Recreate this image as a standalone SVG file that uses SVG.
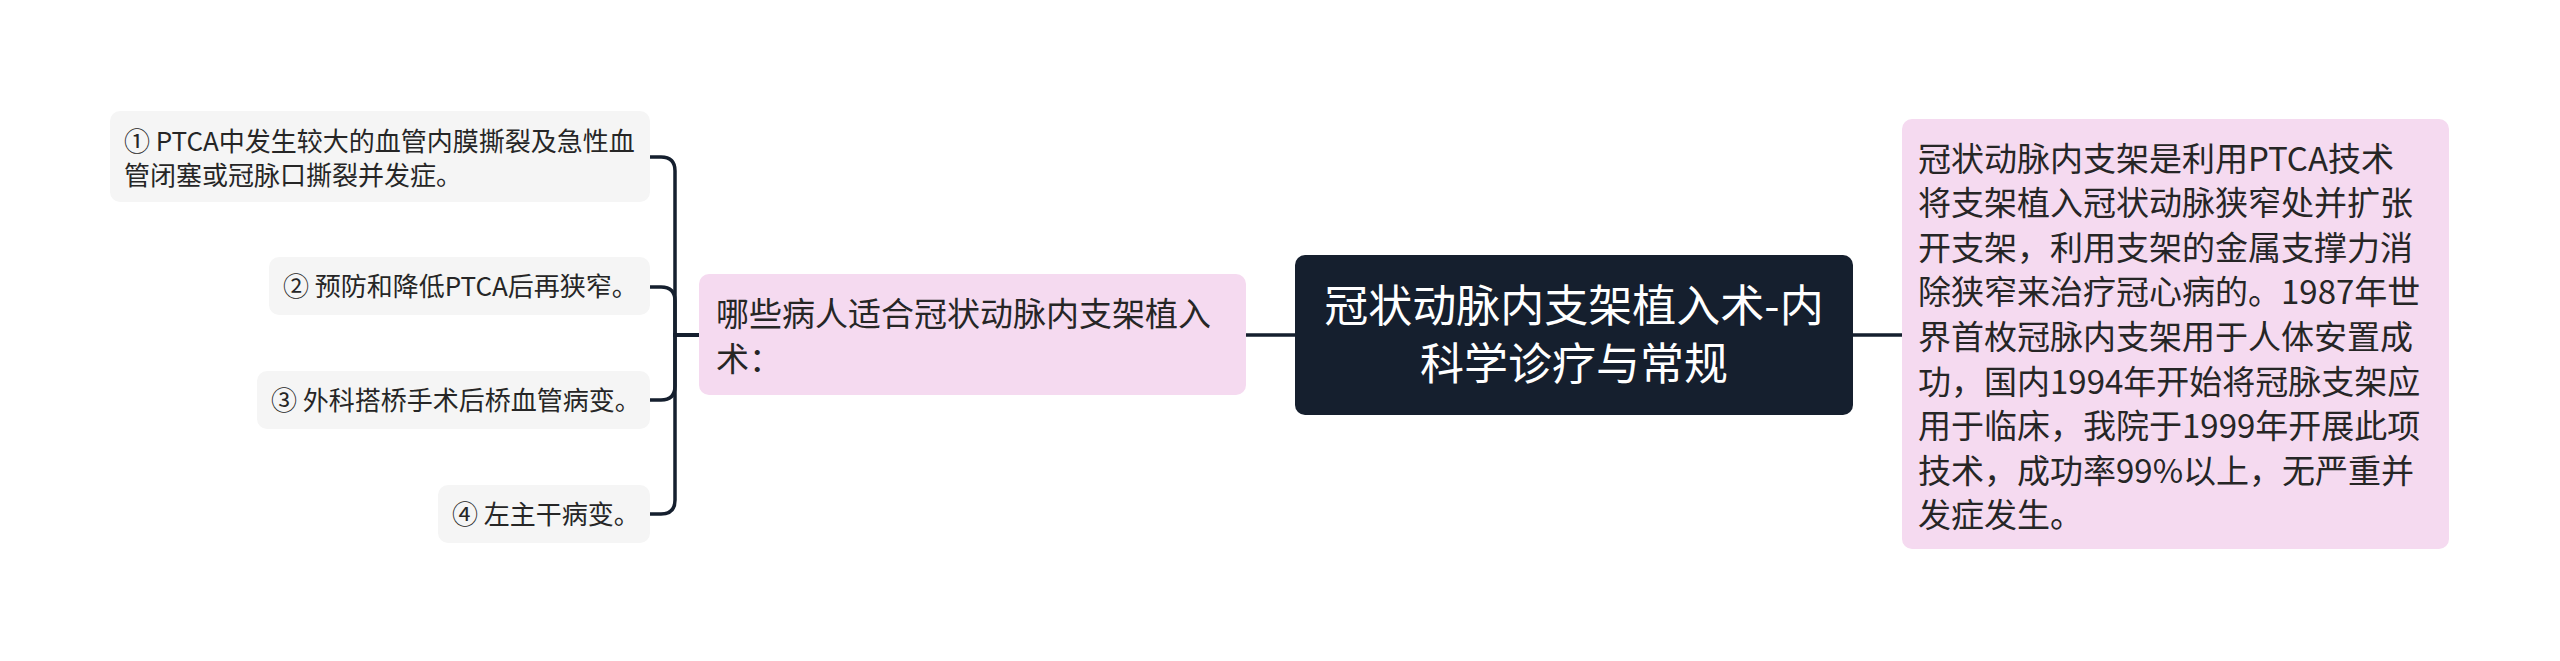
<svg xmlns="http://www.w3.org/2000/svg" width="2560" height="661" viewBox="0 0 2560 661">
<style>
.leaf{fill:#f5f5f5}
.pink{fill:#f5daf0}
.ct{fill:#151f2e}
.t{font-family:"Noto Sans CJK SC","Noto Sans",sans-serif;fill:#262626}
.s26{font-size:26px}
.s33{font-size:33px}
.s44{font-size:44px;fill:#ffffff}
.conn{fill:none;stroke:#151f2e;stroke-width:3.5;stroke-linecap:round}
</style>
<rect width="2560" height="661" fill="#ffffff"/>
<g id="connectors">
<path class="conn" d="M1853 335 H1902"/>
<path class="conn" d="M1246 335 H1295"/>
<path class="conn" d="M699 335 H675 V171 Q675 157 661 157 H650"/>
<path class="conn" d="M699 335 H675 V301 Q675 287 661 287 H650"/>
<path class="conn" d="M699 335 H675 V386 Q675 400 661 400 H650"/>
<path class="conn" d="M699 335 H675 V500 Q675 514 661 514 H650"/>
</g>
<g id="center">
<rect class="ct" x="1295" y="255" width="558" height="160" rx="10"/>
<text class="t s44" x="1574" y="322" text-anchor="middle">冠状动脉内支架植入术-内</text>
<text class="t s44" x="1574" y="380" text-anchor="middle">科学诊疗与常规</text>
</g>
<g id="right-node">
<rect class="pink" x="1902" y="119" width="547" height="430" rx="10"/>
<text class="t s33" x="1918">
<tspan x="1918" y="170.5">冠状动脉内支架是利用PTCA技术</tspan>
<tspan x="1918" y="215.1">将支架植入冠状动脉狭窄处并扩张</tspan>
<tspan x="1918" y="259.7">开支架，利用支架的金属支撑力消</tspan>
<tspan x="1918" y="304.3">除狭窄来治疗冠心病的。1987年世</tspan>
<tspan x="1918" y="348.9">界首枚冠脉内支架用于人体安置成</tspan>
<tspan x="1918" y="393.5">功，国内1994年开始将冠脉支架应</tspan>
<tspan x="1918" y="438.1">用于临床，我院于1999年开展此项</tspan>
<tspan x="1918" y="482.7">技术，成功率99%以上，无严重并</tspan>
<tspan x="1918" y="527.3">发症发生。</tspan>
</text>
</g>
<g id="sub-node">
<rect class="pink" x="699" y="274" width="547" height="121" rx="10"/>
<text class="t s33" x="716">
<tspan x="716" y="325.5">哪些病人适合冠状动脉内支架植入</tspan>
<tspan x="716" y="370.5">术：</tspan>
</text>
</g>
<g id="leaf-1">
<rect class="leaf" x="110" y="111" width="540" height="91" rx="10"/>
<text class="t s26" x="124">
<tspan x="124" y="151">① PTCA中发生较大的血管内膜撕裂及急性血</tspan>
<tspan x="124" y="185">管闭塞或冠脉口撕裂并发症。</tspan>
</text>
</g>
<g id="leaf-2">
<rect class="leaf" x="269" y="257" width="381" height="58" rx="10"/>
<text class="t s26" x="283" y="296">② 预防和降低PTCA后再狭窄。</text>
</g>
<g id="leaf-3">
<rect class="leaf" x="257" y="371" width="393" height="58" rx="10"/>
<text class="t s26" x="271" y="410">③ 外科搭桥手术后桥血管病变。</text>
</g>
<g id="leaf-4">
<rect class="leaf" x="438" y="485" width="212" height="58" rx="10"/>
<text class="t s26" x="452" y="524">④ 左主干病变。</text>
</g>
</svg>
